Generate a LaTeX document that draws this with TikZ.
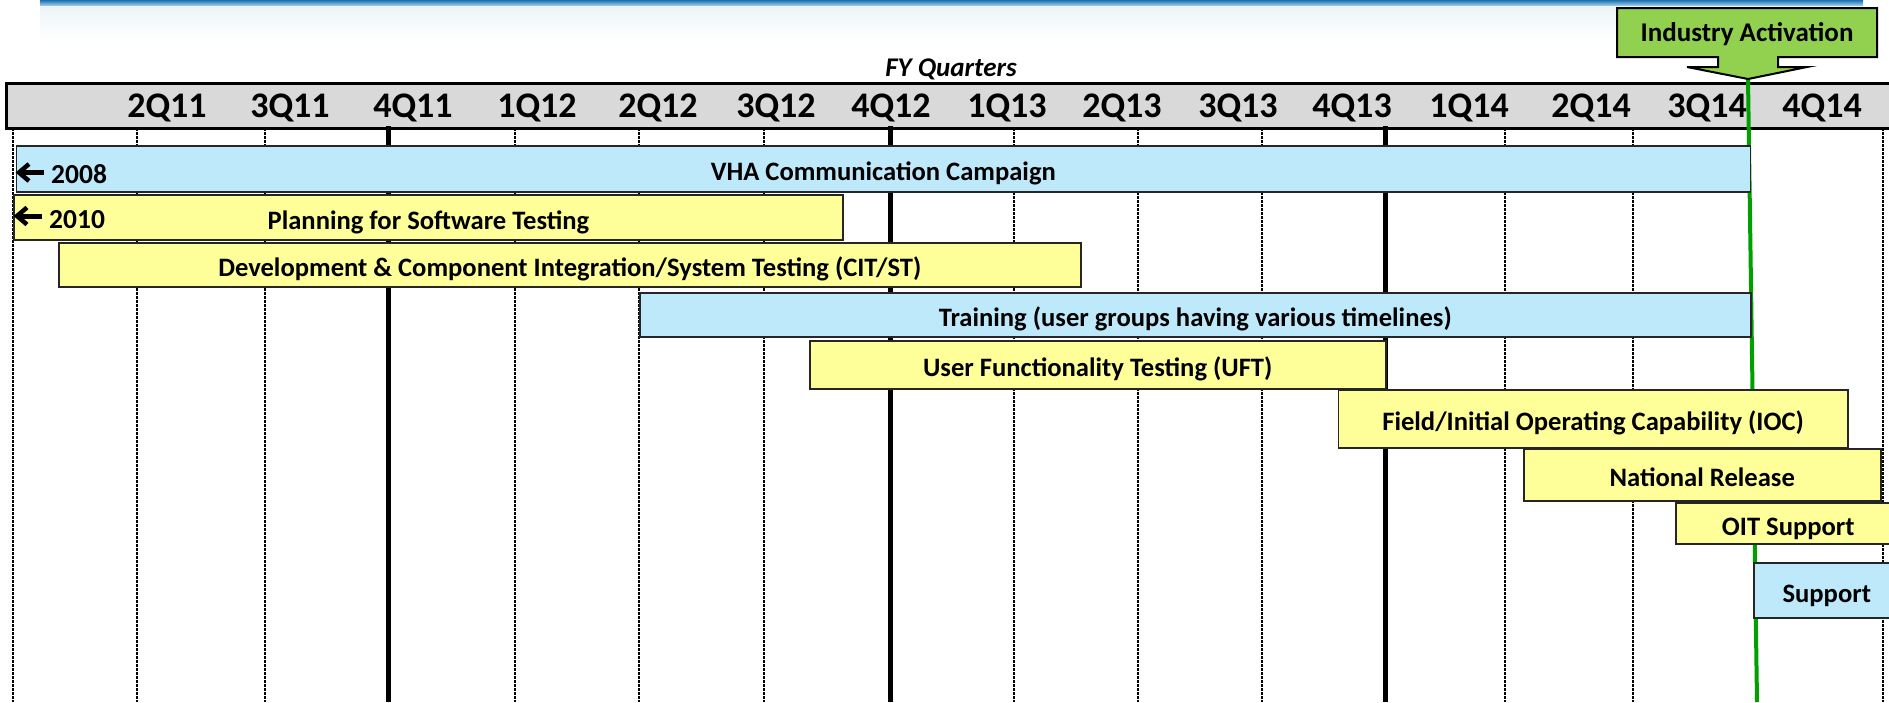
\documentclass[tikz,border=0pt]{standalone}
\usepackage{fontspec}
\setmainfont{Carlito}
\usetikzlibrary{arrows.meta}
\definecolor{baryellow}{RGB}{255,255,153}
\definecolor{barblue}{RGB}{190,233,251}
\definecolor{hdrgray}{RGB}{217,217,217}
\definecolor{calloutgreen}{RGB}{146,208,80}
\definecolor{activgreen}{RGB}{0,160,0}
\definecolor{bannerblue}{RGB}{30,112,176}
\definecolor{bannerlight}{RGB}{170,215,238}
\begin{document}
\begin{tikzpicture}[x=1pt,y=-1pt,
  bar/.style={draw=black!85, line width=1.5pt, inner sep=0pt, anchor=north west, text height=24pt, text depth=0pt, font=\fontsize{26.6}{30}\selectfont\bfseries},
  ybar/.style={bar, fill=baryellow},
  bbar/.style={bar, fill=barblue},
  qlabel/.style={font=\fontsize{36}{42}\selectfont\bfseries, inner sep=0pt, anchor=base},
  yearlabel/.style={font=\fontsize{27.5}{31}\selectfont\bfseries, inner sep=0pt, anchor=base west},
  yeararrow/.style={line width=4.5pt, line cap=butt, line join=miter},
  gridline/.style={line width=1.2pt, dash pattern=on 3pt off 1pt},
  majorline/.style={line width=5pt},
]
\useasboundingbox (0,0) rectangle (1889,702);
\fill[white] (0,0) rectangle (1889,702);
% banner remnant
\shade[top color=bannerblue, bottom color=bannerlight] (40,0) rectangle (1863,6);
\shade[top color={rgb,255:red,236;green,244;blue,249}, bottom color=white] (40,6) rectangle (1863,40);

% header
\node[fill=hdrgray, draw=black, line width=2.5pt, anchor=north west, minimum width=1900pt, minimum height=45pt, inner sep=0pt] (header) at (5,82) {};
\node[font=\fontsize{27}{31}\selectfont\bfseries\itshape, inner sep=0pt, anchor=base] (fy) at (951,76) {FY Quarters};
\foreach \lab/\x in {2Q11/167,3Q11/290,4Q11/413,1Q12/537,2Q12/658,3Q12/776,4Q12/891,1Q13/1007,2Q13/1122,3Q13/1238,4Q13/1352,1Q14/1469,2Q14/1591,3Q14/1707,4Q14/1822}
  \node[qlabel] (q\lab) at (\x,117) {\lab};

% grid lines
\foreach \x in {13,137,265,515,639,764,1014,1138,1262,1505,1633,1883}
  \draw[gridline] (\x,128) -- (\x,702);
\foreach \x in {388,890,1385}
  \draw[majorline] (\x,126) -- (\x,702);

% activation line
\coordinate (tip) at (1748,79);
\coordinate (gbottom) at (1757,702);
\draw[activgreen, line width=4pt] (tip) -- (gbottom);

% bars
\node[bbar, minimum width=1734pt, minimum height=46pt] (vha) at (15.6,145) {VHA Communication Campaign};
\node[ybar, minimum width=828.6pt, minimum height=45pt] (plan) at (13.4,194) {Planning for Software Testing};
\node[ybar, minimum width=1022pt, minimum height=44pt] (dev) at (58,242) {Development \& Component Integration/System Testing (CIT/ST)};
\node[bbar, minimum width=1111pt, minimum height=44pt] (train) at (639,292) {Training (user groups having various timelines)};
\node[ybar, minimum width=576pt, minimum height=48pt] (uft) at (809,340) {User Functionality Testing (UFT)};
\node[ybar, minimum width=509.5pt, minimum height=58pt] (ioc) at (1337.5,389) {Field/Initial Operating Capability (IOC)};
\node[ybar, minimum width=357pt, minimum height=52pt] (natl) at (1523,448) {National Release};
\node[ybar, minimum width=225pt, minimum height=41pt] (oit) at (1675,502) {OIT Support};
\node[bbar, minimum width=146pt, minimum height=55pt] (supp) at (1753,562) {Support};

% year markers
\draw[yeararrow] (29,164) -- (19,172.5) -- (29,181);
\draw[yeararrow, line width=5pt] (19,172.5) -- (43.5,172.5);
\node[yearlabel] (y2008) at (51,183) {2008};
\draw[yeararrow] (27,207.5) -- (17,216) -- (27,224.5);
\draw[yeararrow, line width=5pt] (17,216) -- (41.5,216);
\node[yearlabel] (y2010) at (49,228.5) {2010};

% callout
\filldraw[fill=calloutgreen, draw=black, line width=2pt] (1617,8) -- (1877,8) -- (1877,57) -- (1778,57) -- (1778,67) -- (1807,67) -- (tip) -- (1687,67) -- (1718,67) -- (1718,57) -- (1617,57) -- cycle;
\node[font=\fontsize{27}{31}\selectfont\bfseries, inner sep=0pt, anchor=base] (activ) at (1747,41) {Industry Activation};
\end{tikzpicture}
\end{document}
